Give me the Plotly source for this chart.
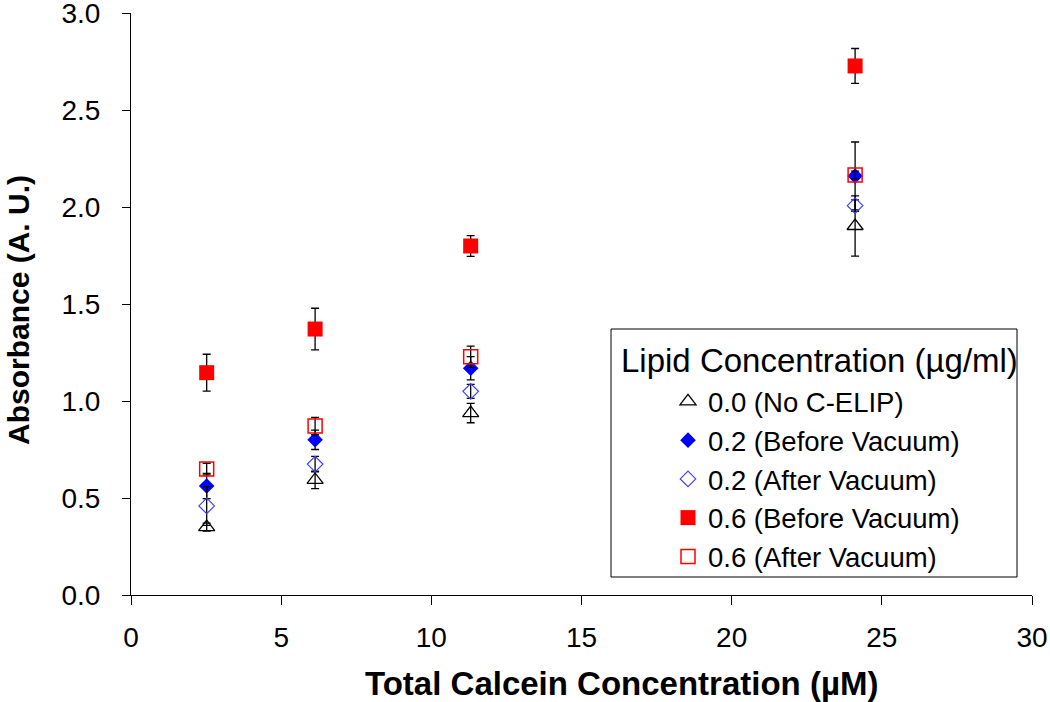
import plotly.graph_objects as go

# Data
x_vals = [2.52, 6.13, 11.31, 24.11]

names = [
    "0.0 (No C-ELIP)",
    "0.2 (Before Vacuum)",
    "0.2 (After Vacuum)",
    "0.6 (Before Vacuum)",
    "0.6 (After Vacuum)",
]

y_none = [0.350, 0.593, 0.938, 1.902]
e_none = [0.020, 0.045, 0.050, 0.155]

y_02_before = [0.562, 0.800, 1.169, 2.160]
e_02_before = [0.065, 0.050, 0.060, 0.175]

y_02_after = [0.459, 0.675, 1.050, 2.007]
e_02_after = [0.100, 0.040, 0.036, 0.030]

y_06_before = [1.146, 1.371, 1.799, 2.727]
e_06_before = [0.095, 0.107, 0.053, 0.090]

y_06_after = [0.649, 0.871, 1.228, 2.165]
e_06_after = [0.030, 0.045, 0.055, 0.020]

x_ticks = [0, 5, 10, 15, 20, 25, 30]
y_ticks = [0.0, 0.5, 1.0, 1.5, 2.0, 2.5, 3.0]

x_title = "Total Calcein Concentration (µM)"
y_title = "Absorbance (A. U.)"
legend_title = "Lipid Concentration (µg/ml)"

series = [
    (names[0], y_none, e_none, dict(symbol="triangle-up-open", size=14, color="#000000", line=dict(width=1.3, color="#000000"))),
    (names[1], y_02_before, e_02_before, dict(symbol="diamond", size=12, color="#0000FF", line=dict(width=0))),
    (names[2], y_02_after, e_02_after, dict(symbol="diamond-open", size=12, color="#4040FF", line=dict(width=1.2, color="#4040FF"))),
    (names[3], y_06_before, e_06_before, dict(symbol="square", size=15, color="#FF0000", line=dict(width=0))),
    (names[4], y_06_after, e_06_after, dict(symbol="square-open", size=14, color="#FF0000", line=dict(width=1.5, color="#FF0000"))),
]

FONT = "Liberation Sans, Arial, sans-serif"

fig = go.Figure()
for name, ys, es, mk in series:
    fig.add_trace(go.Scatter(
        x=x_vals, y=ys, mode="markers", name=name, marker=mk,
        error_y=dict(type="data", array=es, visible=True, color="#000000",
                     thickness=1.3, width=4),
    ))

W, H = 1050, 702
L, T = 131, 13
R = W - 1032
B = H - 595
pw = W - L - R
ph = H - T - B

def px_x(p):
    return (p - L) / pw

def px_y(p):
    return (H - B - p) / ph

fig.update_layout(
    width=W, height=H,
    margin=dict(l=L, r=R, t=T, b=B, autoexpand=False),
    paper_bgcolor="white", plot_bgcolor="white",
    font=dict(family=FONT, size=28, color="#000000"),
    showlegend=True,
    legend=dict(
        x=px_x(668), y=px_y(377), xanchor="left", yanchor="top",
        bgcolor="rgba(0,0,0,0)", borderwidth=0,
        font=dict(family=FONT, size=27.5, color="#000000"),
        tracegroupgap=0,
    ),
    xaxis=dict(
        range=[0, 30], tickvals=x_ticks, ticktext=[str(v) for v in x_ticks],
        showline=True, linecolor="#000000", linewidth=1,
        ticks="outside", ticklen=9, tickwidth=1, tickcolor="#000000",
        showgrid=False, zeroline=False,
        tickfont=dict(family=FONT, size=28),
        ticklabelstandoff=8, ticklabeloverflow="allow",
    ),
    yaxis=dict(
        range=[0, 3], tickvals=y_ticks, ticktext=[f"{v:.1f}" for v in y_ticks],
        showline=True, linecolor="#000000", linewidth=1,
        ticks="outside", ticklen=8, tickwidth=1, tickcolor="#000000",
        showgrid=False, zeroline=False,
        tickfont=dict(family=FONT, size=28),
        ticklabelstandoff=16, ticklabeloverflow="allow",
    ),
    shapes=[dict(
        type="rect", xref="paper", yref="paper",
        x0=px_x(611), x1=px_x(1017), y0=px_y(577), y1=px_y(329),
        line=dict(color="#000000", width=1), fillcolor="rgba(0,0,0,0)",
        layer="above",
    )],
    annotations=[
        dict(text=legend_title, xref="paper", yref="paper",
             x=px_x(619), y=px_y(360), xanchor="left", yanchor="middle",
             showarrow=False, font=dict(family=FONT, size=33, color="#000000")),
        dict(text=f"<b>{x_title}</b>", xref="paper", yref="paper",
             x=px_x(621), y=px_y(683), xanchor="center", yanchor="middle",
             showarrow=False, font=dict(family=FONT, size=33, color="#000000")),
        dict(text=f"<b>{y_title}</b>", xref="paper", yref="paper",
             x=px_x(18), y=px_y(310), xanchor="center", yanchor="middle",
             textangle=-90,
             showarrow=False, font=dict(family=FONT, size=30, color="#000000")),
    ],
)

fig.write_html(
    "out.html",
    config={"displayModeBar": False},
    post_script="document.body.style.margin='0';document.documentElement.style.overflow='hidden';",
)
